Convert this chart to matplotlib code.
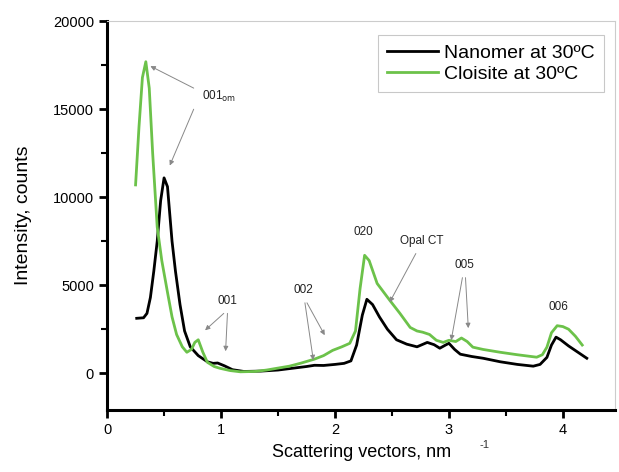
import matplotlib.pyplot as plt
import numpy as np
from matplotlib.ticker import MultipleLocator

plt.rcParams['font.family'] = ['Liberation Sans', 'DejaVu Sans']

# Data
nanomer_x = [0.26, 0.32, 0.35, 0.38, 0.41, 0.44, 0.47, 0.50, 0.53, 0.57, 0.60, 0.64,
             0.68, 0.73, 0.80, 0.88, 0.93, 0.97, 1.03, 1.10, 1.20, 1.35, 1.50, 1.65,
             1.75, 1.82, 1.90, 2.00, 2.08, 2.14, 2.19, 2.24, 2.28, 2.33, 2.39, 2.46,
             2.54, 2.63, 2.72, 2.81, 2.87, 2.92, 2.97, 3.00, 3.05, 3.10, 3.20, 3.30,
             3.45, 3.60, 3.74, 3.80, 3.86, 3.90, 3.94, 3.98, 4.05, 4.13, 4.21]
nanomer_y = [3120, 3150, 3400, 4300, 5800, 7500, 9800, 11100, 10600, 7500, 5800, 3900,
             2400, 1500, 1000, 650, 560, 580, 420, 200, 100, 120, 180, 300,
             380, 450, 440, 500, 560, 700, 1600, 3300, 4200, 3900, 3200, 2500,
             1900, 1650, 1500, 1750, 1620, 1420, 1600, 1700, 1350, 1080, 950, 850,
             650, 500, 400, 500, 900, 1600, 2050, 1900, 1550, 1200, 850]

cloisite_x = [0.25, 0.28, 0.31, 0.34, 0.37, 0.40, 0.44, 0.48, 0.53, 0.57, 0.61, 0.66,
              0.70, 0.74, 0.77, 0.80, 0.84, 0.88, 0.94, 0.99, 1.08, 1.17, 1.30, 1.40,
              1.49, 1.60, 1.70, 1.82, 1.90, 1.98, 2.06, 2.13, 2.18, 2.22, 2.26, 2.30,
              2.37, 2.48, 2.57, 2.66, 2.72, 2.77, 2.83, 2.89, 2.95, 3.00, 3.06, 3.11,
              3.16, 3.21, 3.30, 3.45, 3.60, 3.77, 3.82, 3.86, 3.90, 3.95, 4.00, 4.05,
              4.11, 4.17]
cloisite_y = [10700, 14000, 16800, 17700, 16200, 12500, 8300, 6400, 4600, 3200, 2200, 1500,
              1190, 1350, 1750, 1900, 1200, 620, 380, 280, 150, 80, 100, 180,
              280, 400, 570, 800, 1000, 1300, 1500, 1700, 2400, 4800, 6700, 6400,
              5100, 4150, 3400, 2600, 2400, 2330, 2200, 1870, 1750, 1870, 1800, 2000,
              1800, 1480, 1350, 1190, 1050, 910, 1050, 1480, 2300, 2700, 2650, 2500,
              2100, 1600]

# (text, text x, text y, arrow targets)
labels = [
    ("001$_{\\rm om}$", 0.98, 15700, [(0.38, 17450), (0.55, 11800)]),
    ("001", 1.06, 4100, [(0.86, 2440), (1.04, 1250)]),
    ("002", 1.72, 4700, [(1.81, 740), (1.91, 2160)]),
    ("020", 2.25, 8000, []),
    ("Opal CT", 2.76, 7500, [(2.48, 4030)]),
    ("005", 3.14, 6130, [(3.02, 1870), (3.17, 2560)]),
    ("006", 3.96, 3750, []),
]

fig = plt.figure(figsize=(6.19, 4.72), dpi=100)
ax = fig.add_axes([0.173, 0.131, 0.821, 0.824])

ax.plot(nanomer_x, nanomer_y, color="black", lw=2, label="Nanomer at 30ºC")
ax.plot(cloisite_x, cloisite_y, color="#6cc24a", lw=2, label="Cloisite at 30ºC")

for text, tx, ty, targets in labels:
    ax.text(tx, ty, text, ha="center", va="center", fontsize=8.5, color="#222222")
    for (ex, ey) in targets:
        sx = tx + (ex - tx) * 0.18
        sy = ty - 700 if ey < ty else ty + 300
        if text.startswith("001$"):
            sx = tx - 0.22
            sy = ty + 500 if ey > ty else ty - 700
        ax.annotate("", xy=(ex, ey), xytext=(sx, sy),
                    arrowprops=dict(arrowstyle="-|>", color="#888888", lw=0.7,
                                    mutation_scale=7, shrinkA=0, shrinkB=0))

ax.set_xlim(0, 4.46)
ax.set_ylim(-2100, 20000)
ax.xaxis.set_major_locator(MultipleLocator(1))
ax.xaxis.set_minor_locator(MultipleLocator(0.5))
ax.yaxis.set_major_locator(MultipleLocator(5000))
ax.yaxis.set_minor_locator(MultipleLocator(2500))
ax.tick_params(which="major", direction="out", length=6, width=2, labelsize=10.5)
ax.tick_params(which="minor", direction="out", length=4, width=1.5)
ax.tick_params(top=False, right=False)

ax.spines["left"].set_linewidth(2.2)
ax.spines["bottom"].set_linewidth(2.2)
for s in ("top", "right"):
    ax.spines[s].set_color("#cccccc")
    ax.spines[s].set_linewidth(0.8)

ax.set_ylabel("Intensity, counts", fontsize=14, labelpad=15)
ax.set_xlabel("Scattering vectors, nm", fontsize=13, labelpad=5)
fig.text(485 / 619, 1 - 445 / 472, "-1", fontsize=8, color="#333333",
         ha="center", va="center")

leg = ax.legend(loc="upper right", fontsize=14, frameon=True, fancybox=False,
                handlelength=2.6, handletextpad=0.3, borderpad=0.5, labelspacing=0.15,
                bbox_to_anchor=(0.997, 0.99))
leg.get_frame().set_edgecolor("#bbbbbb")
leg.get_frame().set_linewidth(0.8)

fig.savefig("out.png", dpi=100)
